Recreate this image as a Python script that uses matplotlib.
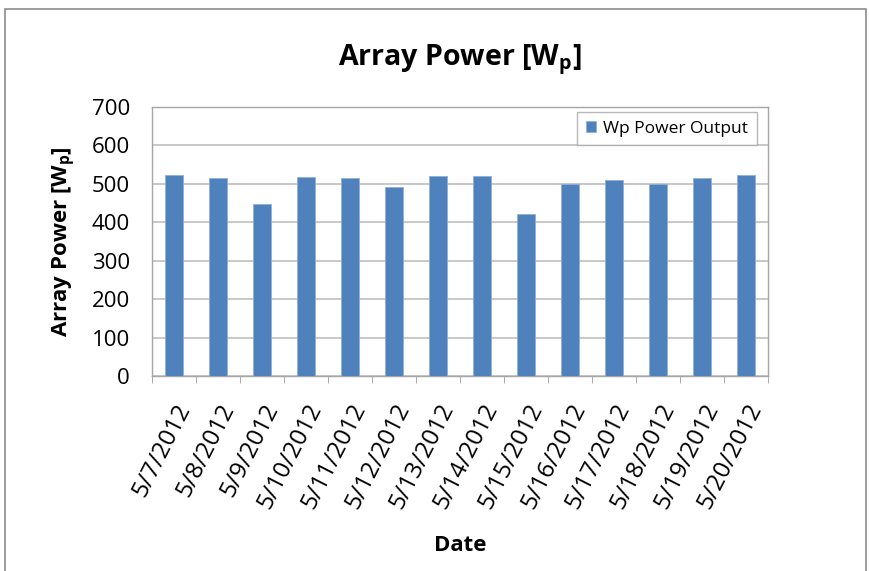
import matplotlib.pyplot as plt
import matplotlib.patches as mpatches
import numpy as np

plt.rcParams['font.family'] = ['Open Sans', 'DejaVu Sans']

dates = ["5/7/2012", "5/8/2012", "5/9/2012", "5/10/2012", "5/11/2012",
         "5/12/2012", "5/13/2012", "5/14/2012", "5/15/2012", "5/16/2012",
         "5/17/2012", "5/18/2012", "5/19/2012", "5/20/2012"]
power = [522, 515, 448, 517, 515, 491, 520, 520, 422, 500, 510, 500, 515, 522]
yticks = [0, 100, 200, 300, 400, 500, 600, 700]

fig = plt.figure(figsize=(8.69, 5.71), dpi=100)
ax = fig.add_axes([0.175, 0.3415, 0.709, 0.4711])

x = np.arange(len(dates))
ax.bar(x, power, width=0.4, color="#4F81BD", edgecolor="#8FB0DA",
       linewidth=0.6, label="Wp Power Output", zorder=3)

ax.set_xlim(-0.5, len(dates) - 0.5)
ax.set_ylim(0, 700)
ax.set_yticks(yticks)
ax.tick_params(axis="y", length=0, labelsize=16, pad=16)
ax.grid(axis="y", color="#BFBFBF", linewidth=1.2, zorder=0)

ax.set_xticks(x)
ax.set_xticklabels(dates, rotation=63, ha="right", rotation_mode="anchor",
                   fontsize=17.5)
ax.tick_params(axis="x", length=0, pad=17)
ax.set_xticks(np.arange(-0.5, len(dates)), minor=True)
ax.tick_params(axis="x", which="minor", length=5, color="#A0A0A0")

for s in ax.spines.values():
    s.set_color("#A6A6A6")
    s.set_linewidth(1.0)

ax.set_title("Array Power [W$_\\mathregular{p}$]", fontsize=20.5,
             fontweight="bold", pad=30)
ax.set_ylabel("Array Power [W$_\\mathregular{p}$]", fontsize=16,
              fontweight="bold", labelpad=10)
ax.set_xlabel("Date", fontsize=16, fontweight="bold", labelpad=16)

leg = ax.legend(loc="upper right", fontsize=12.5, frameon=True, fancybox=False,
                handlelength=0.6, handleheight=0.6, handletextpad=0.4,
                borderaxespad=0.0, borderpad=0.5,
                bbox_to_anchor=(0.982, 0.981))
leg.get_frame().set_edgecolor("#A6A6A6")
leg.get_frame().set_linewidth(1.0)

fig.patches.append(mpatches.Rectangle((0.006, -0.02), 0.99, 1.004,
                                      transform=fig.transFigure, fill=False,
                                      edgecolor="#8C8C8C", linewidth=1.2))

fig.savefig("out.png", dpi=100)
